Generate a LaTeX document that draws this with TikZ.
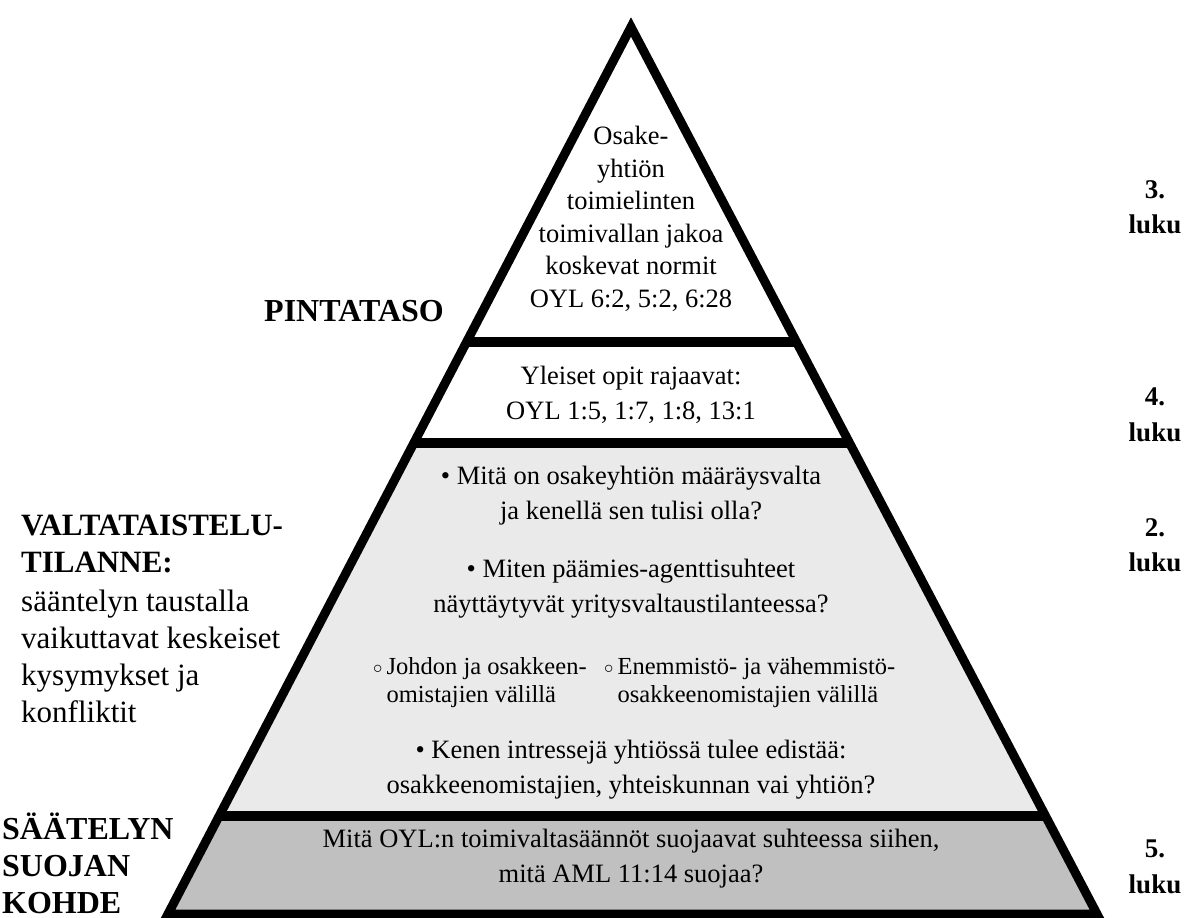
\documentclass[tikz,border=0pt]{standalone}
\usepackage{fontspec}
\usepackage{graphicx}
\setmainfont{Liberation Serif}
\usetikzlibrary{calc}
\definecolor{lightband}{RGB}{234,234,234}
\definecolor{darkband}{RGB}{192,192,192}
\tikzset{
  x=1pt, y=-1pt,
  toptext/.style={align=center, inner sep=0pt, font=\fontsize{26.5}{32.5}\selectfont},
  maintext/.style={align=center, inner sep=0pt, font=\fontsize{26.5}{35}\selectfont},
  subtext/.style={align=left, inner sep=0pt, anchor=west, font=\fontsize{24.5}{31}\selectfont},
  boldlabel/.style={align=left, inner sep=0pt, anchor=base west, font=\fontsize{32}{37}\selectfont\bfseries},
  sidetext/.style={align=left, inner sep=0pt, anchor=base west, font=\fontsize{31}{37}\selectfont},
  lukulabel/.style={align=center, inner sep=0pt, font=\fontsize{27}{35.5}\selectfont\bfseries},
  edge/.style={line width=9pt, line join=miter, miter limit=10},
  bar/.style={line width=9.5pt},
}
\newcommand{\subbul}{\raisebox{1pt}{\scalebox{0.75}{$\circ$}}}
\begin{document}
\begin{tikzpicture}
\useasboundingbox (0,0) rectangle (1192,918);
% pyramid geometry
\coordinate (A) at (631,27);
\coordinate (BL) at (168,914);
\coordinate (BR) at (1097,914);
\coordinate (L1) at ($(A)!0.3551!(BL)$);
\coordinate (R1) at ($(A)!0.3551!(BR)$);
\coordinate (L2) at ($(A)!0.4690!(BL)$);
\coordinate (R2) at ($(A)!0.4690!(BR)$);
\coordinate (L3) at ($(A)!0.8895!(BL)$);
\coordinate (R3) at ($(A)!0.8895!(BR)$);
% fills
\fill[lightband] (L2) -- (R2) -- (R3) -- (L3) -- cycle;
\fill[darkband] (L3) -- (R3) -- (BR) -- (BL) -- cycle;
% bars
\draw[bar] (L1) -- (R1);
\draw[bar] (L2) -- (R2);
\draw[bar] (L3) -- (R3);
% outline
\draw[edge] (A) -- (BR) -- (BL) -- cycle;

% texts inside the pyramid
\node[toptext] (top) at (631,219) {Osake-\\yhtiön\\toimielinten\\toimivallan jakoa\\koskevat normit\\OYL 6:2, 5:2, 6:28};
\node[maintext] (yleiset) at (631,395) {Yleiset opit rajaavat:\\OYL 1:5, 1:7, 1:8, 13:1};
\node[maintext] (q1) at (631,496) {\textbullet\ Mitä on osakeyhtiön määräysvalta\\ja kenellä sen tulisi olla?};
\node[maintext] (q2) at (631,589) {\textbullet\ Miten päämies-agenttisuhteet\\näyttäytyvät yritysvaltaustilanteessa?};
\node[subtext] (s1) at (373,682) {\begin{tabular}{@{}l@{\,}l@{}}\subbul & Johdon ja osakkeen-\\[-3pt] & omistajien välillä\end{tabular}};
\node[subtext] (s2) at (604,682) {\begin{tabular}{@{}l@{\,}l@{}}\subbul & Enemmistö- ja vähemmistö-\\[-3pt] & osakkeenomistajien välillä\end{tabular}};
\node[maintext] (q3) at (631,770) {\textbullet\ Kenen intressejä yhtiössä tulee edistää:\\osakkeenomistajien, yhteiskunnan vai yhtiön?};
\node[maintext] (dark) at (631,859) {Mitä OYL:n toimivaltasäännöt suojaavat suhteessa siihen,\\mitä AML 11:14 suojaa?};

% left labels (base anchor = baseline of last line)
\node[boldlabel, anchor=east] (pinta) at (444,311) {PINTATASO};
\node[boldlabel, font=\fontsize{31}{37}\selectfont\bfseries] (valta) at (21,572) {VALTATAISTELU-\\TILANNE:};
\node[sidetext] (vdesc) at (21,722) {sääntelyn taustalla\\vaikuttavat keskeiset\\kysymykset ja\\konfliktit};
\node[boldlabel] (saat) at (2,913) {SÄÄTELYN\\SUOJAN\\KOHDE};

% right labels
\node[lukulabel] (l3) at (1155,207) {3.\\luku};
\node[lukulabel] (l4) at (1155,415) {4.\\luku};
\node[lukulabel] (l2) at (1155,545) {2.\\luku};
\node[lukulabel] (l5) at (1155,867) {5.\\luku};
\end{tikzpicture}
\end{document}
